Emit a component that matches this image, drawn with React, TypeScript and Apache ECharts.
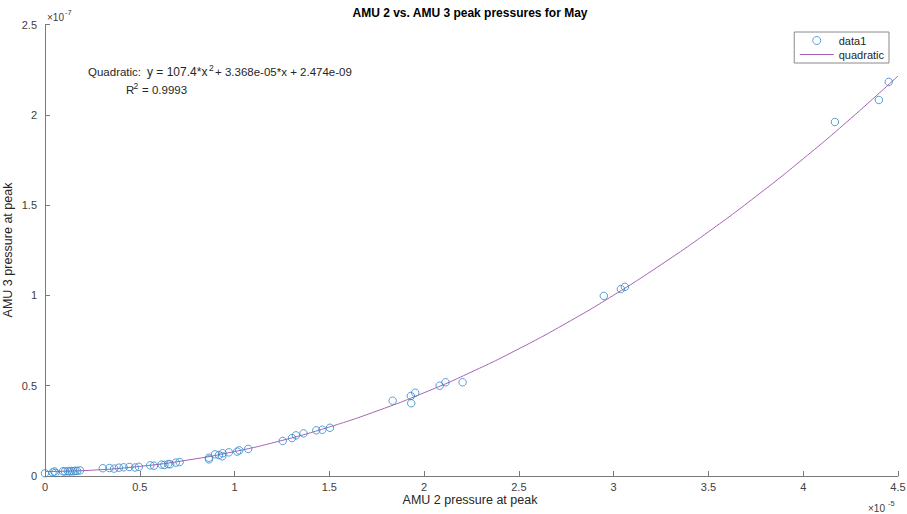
import React, { useEffect, useRef } from "react";
import * as echarts from "echarts";

// AMU 2 pressure at peak, in units of 1e-5
const amu2Pressure: number[] = [
  0.0, 0.04, 0.05, 0.055, 0.095, 0.105, 0.12, 0.13, 0.14, 0.15, 0.16, 0.17, 0.185,
  0.305, 0.34, 0.365, 0.39, 0.415, 0.445, 0.475, 0.495, 0.555, 0.575, 0.615, 0.63, 0.65, 0.66, 0.69, 0.71,
  0.865, 0.865, 0.897, 0.918, 0.937, 0.935, 0.97, 1.014, 1.025, 1.072,
  1.254, 1.303, 1.324, 1.364, 1.431, 1.463, 1.503,
  1.834, 1.93, 1.953, 1.932, 2.082, 2.113, 2.203,
  2.948, 3.038, 3.059,
  4.167, 4.399, 4.451,
];
// AMU 3 pressure at peak, in units of 1e-7
const amu3Pressure: number[] = [
  0.015, 0.02, 0.025, 0.017, 0.026, 0.025, 0.027, 0.025, 0.028, 0.026, 0.029, 0.028, 0.031,
  0.043, 0.044, 0.041, 0.046, 0.048, 0.05, 0.047, 0.051, 0.059, 0.057, 0.063, 0.061, 0.066, 0.065, 0.074, 0.077,
  0.101, 0.092, 0.12, 0.116, 0.126, 0.109, 0.131, 0.135, 0.142, 0.15,
  0.194, 0.21, 0.225, 0.236, 0.253, 0.256, 0.267,
  0.417, 0.443, 0.461, 0.403, 0.5, 0.519, 0.519,
  0.997, 1.035, 1.047,
  1.96, 2.082, 2.182,
];

// Quadratic fit curve sampled values (x in 1e-5, y in 1e-7)
const fitX: number[] = [0, 0.25, 0.5, 0.75, 1, 1.25, 1.5, 1.75, 2, 2.25, 2.5, 2.75, 3, 3.25, 3.5, 3.75, 4, 4.25, 4.5];
const fitY: number[] = [
  0.0247, 0.0323, 0.0533, 0.0877, 0.1355, 0.1968, 0.2714, 0.3595, 0.461, 0.576, 0.7044,
  0.8462, 1.0014, 1.1701, 1.3522, 1.5477, 1.7566, 1.979, 2.2148,
];

const xTicks = { min: 0, max: 4.5, interval: 0.5 };
const yTicks = { min: 0, max: 2.5, interval: 0.5 };

const titleText = "AMU 2 vs. AMU 3 peak pressures for May";
const xName = "AMU 2 pressure at peak";
const yName = "AMU 3 pressure at peak";
const seriesNames = ["data1", "quadratic"];

const FONT = "Liberation Sans, Arial, Helvetica, sans-serif";
const DOT = "#2f87cc";
const FIT = "#a463b3";

export default function App() {
  const ref = useRef<HTMLDivElement>(null);
  useEffect(() => {
    if (!ref.current) return;
    const chart = echarts.init(ref.current, null, { renderer: "svg" });
    const axisColor = "#7a7a7a";
    const labelColor = "#404040";
    const txt = (text: string, x: number, y: number, size: number, extra: any = {}) => ({
      type: "text",
      x,
      y,
      silent: true,
      style: {
        text,
        fontSize: size,
        fontFamily: FONT,
        fill: "#262626",
        textAlign: "left",
        textVerticalAlign: "middle",
        ...extra,
      },
    });
    chart.setOption({
      animation: false,
      backgroundColor: "#ffffff",
      textStyle: { fontFamily: FONT },
      grid: { left: 45, right: 9, top: 24.5, bottom: 38, outerBoundsMode: "none", containLabel: false },
      legend: {
        right: 18,
        top: 32,
        orient: "vertical",
        data: [
          {
            name: seriesNames[0],
            itemStyle: { color: "rgba(0,0,0,0)", borderColor: DOT, borderWidth: 1 },
          },
          {
            name: seriesNames[1],
            itemStyle: { opacity: 0 },
            lineStyle: { color: FIT, width: 1 },
          },
        ],
        backgroundColor: "#ffffff",
        borderColor: "#8a8a8a",
        borderWidth: 1,
        padding: [3, 5, 3, 5],
        itemGap: 3,
        itemWidth: 34,
        itemHeight: 8,
        textStyle: { fontSize: 11, color: "#262626", fontFamily: FONT },
      },
      xAxis: {
        type: "value",
        min: xTicks.min,
        max: xTicks.max,
        interval: xTicks.interval,
        axisLine: { show: true, lineStyle: { color: axisColor, width: 1 } },
        axisTick: { show: true, inside: true, length: 5, lineStyle: { color: axisColor } },
        axisLabel: { color: labelColor, fontSize: 11, margin: 5, fontFamily: FONT },
        splitLine: { show: false },
      },
      yAxis: {
        type: "value",
        min: yTicks.min,
        max: yTicks.max,
        interval: yTicks.interval,
        axisLine: { show: true, lineStyle: { color: axisColor, width: 1 } },
        axisTick: { show: true, inside: true, length: 5, lineStyle: { color: axisColor } },
        axisLabel: { color: labelColor, fontSize: 11, margin: 8, fontFamily: FONT },
        splitLine: { show: false },
      },
      series: [
        {
          name: seriesNames[0],
          type: "scatter",
          symbol: "circle",
          symbolSize: 7.5,
          itemStyle: { color: "rgba(0,0,0,0)", borderColor: DOT, borderWidth: 1 },
          data: amu2Pressure.map((x, i) => [x, amu3Pressure[i]]),
          z: 3,
        },
        {
          name: seriesNames[1],
          type: "line",
          smooth: true,
          showSymbol: false,
          symbol: "none",
          lineStyle: { color: FIT, width: 1 },
          itemStyle: { color: FIT },
          data: fitX.map((x, i) => [x, fitY[i]]),
          z: 2,
        },
      ],
      graphic: [
        txt(titleText, 470, 13, 12, { fontWeight: "bold", textAlign: "center", fill: "#000" }),
        {
          type: "text",
          x: 8,
          y: 250,
          rotation: Math.PI / 2,
          silent: true,
          style: { text: yName, fontSize: 12.5, fontFamily: FONT, fill: "#262626", textAlign: "center", textVerticalAlign: "middle" },
        },
        txt(xName, 470, 500, 12.5, { textAlign: "center" }),
        txt("×10", 47, 17, 10, { fill: labelColor }),
        txt("-7", 65, 12, 7.5, { fill: labelColor }),
        txt("×10", 868, 508, 10, { fill: labelColor }),
        txt("-5", 888, 503, 7.5, { fill: labelColor }),
        txt("Quadratic:", 88, 71.5, 11.5),
        txt("y = 107.4*x", 147, 71.5, 12),
        txt("2", 209, 67.5, 8.5),
        txt("+ 3.368e-05*x + 2.474e-09", 215, 71.5, 11.5),
        txt("R", 126, 90, 11.5),
        txt("2", 133.5, 86, 8.5),
        txt("= 0.9993", 142, 90, 11.5),
      ],
    });
    return () => chart.dispose();
  }, []);
  return <div ref={ref} style={{ width: 907, height: 514, position: "absolute", left: 0, top: 0 }} />;
}
